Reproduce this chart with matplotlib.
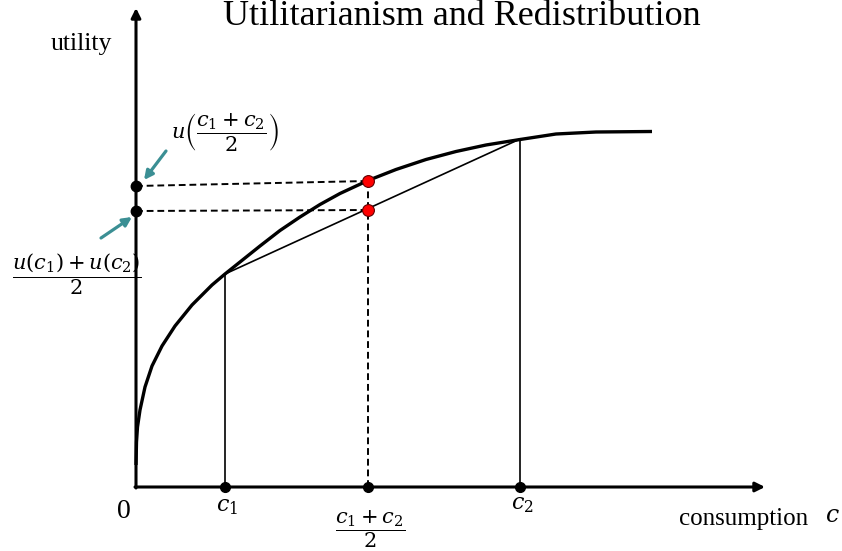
import matplotlib.pyplot as plt

plt.rcParams['font.family'] = ['Liberation Serif', 'DejaVu Serif']
plt.rcParams['mathtext.fontset'] = 'dejavuserif'

# utility curve (consumption, utility), pixel-like units
curve_c = [0, 0.5, 1.5, 4, 9, 16, 26, 39, 56, 76, 89, 104, 124, 144, 164,
           184, 204, 232, 260, 290, 320, 350, 384, 420, 460, 516]
curve_u = [22, 45, 60, 77, 100, 121, 141, 161, 182, 202, 213, 225, 241,
           256.5, 270, 282.5, 293.5, 306.5, 317.5, 327.5, 335.5, 342,
           347.5, 353, 355, 355.5]

c1, c2 = 89, 384
u1, u2 = 213, 348
c_mid = 232
u_mid = 306          # u((c1+c2)/2)
u_avg = 277          # (u(c1)+u(c2))/2
u_mid_axis = 301     # where the dashed lines meet the utility axis
u_avg_axis = 276

x_max, y_max = 629, 479
teal = '#3b8f94'

fig = plt.figure(figsize=(8.42, 5.51), dpi=100)
ax = fig.add_axes([0, 0, 1, 1])
ax.set_xlim(-136, 706)
ax.set_ylim(-64, 487)
ax.axis('off')

# axes with arrow heads
arr = dict(arrowstyle='-|>', lw=2.2, color='k', mutation_scale=14,
           shrinkA=0, shrinkB=0)
ax.annotate('', xy=(x_max, 0), xytext=(-1, 0), arrowprops=arr)
ax.annotate('', xy=(0, y_max), xytext=(0, -1), arrowprops=arr)

# chord and verticals
ax.plot([c1, c2], [u1, u2], color='k', lw=1.2)
ax.plot([c1, c1], [0, u1], color='k', lw=1.2)
ax.plot([c2, c2], [0, u2], color='k', lw=1.2)

# dashed guide lines
ds = (0, (3.5, 2))
ax.plot([0, c_mid], [u_mid_axis, u_mid], color='k', lw=1.4, linestyle=ds)
ax.plot([0, c_mid], [u_avg_axis, u_avg], color='k', lw=1.4, linestyle=ds)
ax.plot([c_mid, c_mid], [0, u_mid], color='k', lw=1.4, linestyle=ds)

# utility curve
ax.plot(curve_c, curve_u, color='k', lw=2.4, solid_capstyle='butt',
        solid_joinstyle='round', zorder=3)

# points
ax.plot([c1, c_mid, c2], [0, 0, 0], 'o', color='k', ms=7, zorder=4)
ax.plot([0, 0], [u_mid_axis, u_avg_axis], 'o', color='k', ms=7.5, zorder=4)
ax.plot([c_mid, c_mid], [u_mid, u_avg], 'o', color='red', mec='#600000',
        mew=0.8, ms=8.5, zorder=5)

# teal pointer arrows
tarr = dict(arrowstyle='-|>', lw=2.3, color=teal, mutation_scale=13,
            shrinkA=0, shrinkB=0)
ax.annotate('', xy=(8, 307), xytext=(30, 336), arrowprops=tarr)
ax.annotate('', xy=(-4, 270), xytext=(-35, 249), arrowprops=tarr)

# texts
ax.text(326, 462, 'Utilitarianism and Redistribution', fontsize=26,
        ha='center', va='baseline')
ax.text(-55, 437, 'utility', fontsize=18.5, ha='center', va='baseline')
ax.text(-12, -25, '0', fontsize=20, ha='center', va='center')
ax.text(c1 + 2, -20, r'$c_1$', fontsize=16, ha='center', va='center')
ax.text(c2 + 2, -18, r'$c_2$', fontsize=16, ha='center', va='center')
ax.text(c_mid + 2, -42, r'$\dfrac{c_1+c_2}{2}$', fontsize=15, ha='center',
        va='center')
ax.text(543, -38, 'consumption', fontsize=18, ha='left', va='baseline')
ax.text(696, -35, r'$c$', fontsize=17, ha='center', va='baseline')
ax.text(89, 355, r'$u\left(\dfrac{c_1+c_2}{2}\right)$', fontsize=15,
        ha='center', va='center')
ax.text(-59, 213, r'$\dfrac{u(c_1)+u(c_2)}{2}$', fontsize=15, ha='center',
        va='center')

fig.savefig('out.png', dpi=100)
